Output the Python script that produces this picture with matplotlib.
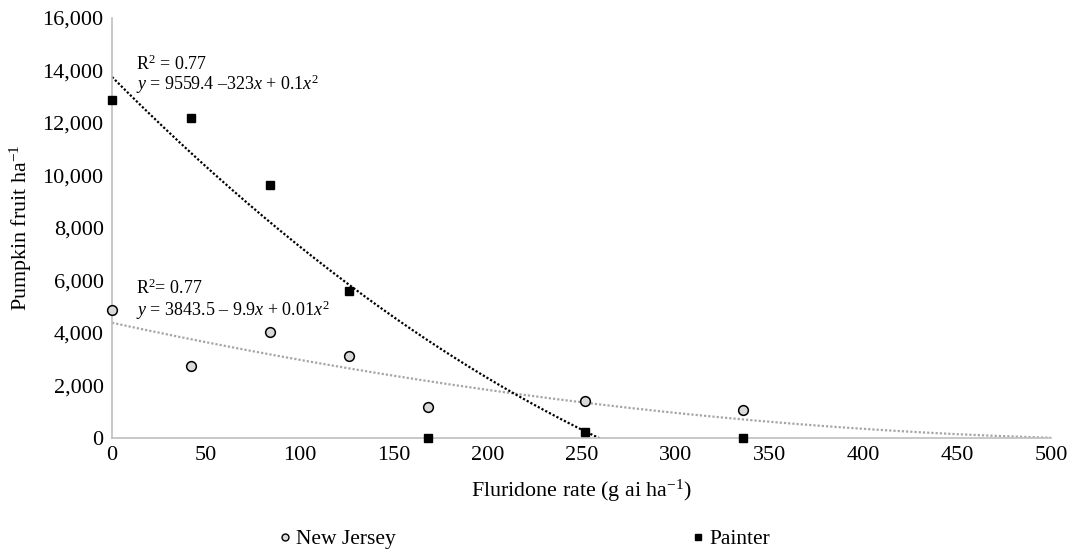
import numpy as np
import matplotlib
matplotlib.use("Agg")
import matplotlib.pyplot as plt
from matplotlib.lines import Line2D
from matplotlib.ticker import FuncFormatter

rate = [0, 42, 84, 126, 168, 252, 336]
new_jersey = [4890, 2745, 4050, 3110, 1195, 1415, 1065]
painter = [12870, 12190, 9640, 5610, 0, 215, 0]
# quadratic trendline coefficients (highest power first), read from the drawn trendlines
trend_nj = [0.0134, -15.46, 4390]
trend_painter = [0.0727, -71.9, 13755]
x_ticks = [0, 50, 100, 150, 200, 250, 300, 350, 400, 450, 500]
y_ticks = [0, 2000, 4000, 6000, 8000, 10000, 12000, 14000, 16000]

plt.rcParams['font.family'] = ['Liberation Serif', 'DejaVu Serif']
plt.rcParams['mathtext.fontset'] = 'custom'
plt.rcParams['mathtext.rm'] = 'Liberation Serif'
plt.rcParams['mathtext.it'] = 'Liberation Serif:italic'

fig = plt.figure(figsize=(10.71, 5.5), dpi=100)
ax = fig.add_axes([0.1046, 0.2036, 0.8767, 0.7637])

xs = np.linspace(0, 500, 500)
ax.plot(xs, np.polyval(trend_nj, xs), color='#a6a6a6', lw=1.6, ls=(0, (1, 0.9)), zorder=2)
ax.plot(xs, np.polyval(trend_painter, xs), color='black', lw=1.6, ls=(0, (1, 0.9)), zorder=2)

ax.plot(rate, new_jersey, 'o', ms=7, mfc='#d9d9d9', mec='black', mew=1.1, zorder=3, clip_on=False)
ax.plot(rate, painter, 's', ms=6, mfc='black', mec='black', zorder=3, clip_on=False)

ax.set_xlim(0, 500)
ax.set_ylim(0, 16000)
ax.set_xticks(x_ticks)
ax.set_yticks(y_ticks)
ax.yaxis.set_major_formatter(FuncFormatter(lambda v, p: f"{int(v):,}"))
ax.tick_params(length=0, labelsize=16, pad=6)
for s in ['top', 'right']:
    ax.spines[s].set_visible(False)
for s in ['left', 'bottom']:
    ax.spines[s].set_color('#bfbfbf')
    ax.spines[s].set_linewidth(1.2)

ax.set_xlabel(r"Fluridone rate (g ai ha$^{\mathrm{-1}}$)", fontsize=15.8, labelpad=9)
ax.set_ylabel(r"Pumpkin fruit ha$^{\mathrm{-1}}$", fontsize=15.8, labelpad=6)

ax.text(13, 14250, r"R$^{2}$ = 0.77", fontsize=13, va='center')
ax.text(13, 13480, r"$y$ = 9559.4 –323$x$ + 0.1$x^{2}$", fontsize=13, va='center')
ax.text(13, 5710, r"R$^{2}$= 0.77", fontsize=13, va='center')
ax.text(13, 4880, r"$y$ = 3843.5 – 9.9$x$ + 0.01$x^{2}$", fontsize=13, va='center')

handles = [
    Line2D([], [], ls='none', marker='o', ms=5, mfc='#d9d9d9', mec='black', mew=1.0),
    Line2D([], [], ls='none', marker='s', ms=5, mfc='black', mec='black'),
]
fig.legend(handles, ['New Jersey', 'Painter'], loc='center', bbox_to_anchor=(0.490, 0.02),
           ncol=2, frameon=False, fontsize=15.5, handlelength=0.5, handletextpad=0.25,
           columnspacing=13.8, borderpad=0, borderaxespad=0)

fig.savefig('out.png', dpi=100)
